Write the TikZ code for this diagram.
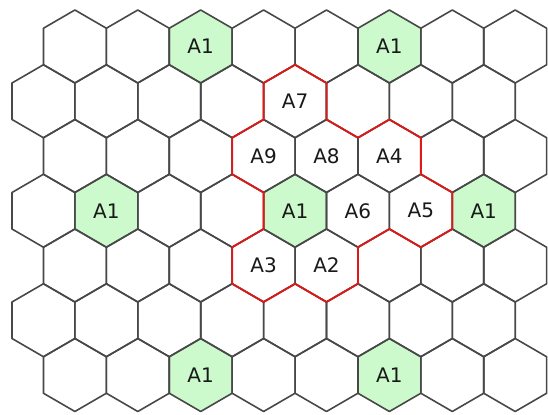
\documentclass[tikz,border=0pt]{standalone}
\usepackage{fontspec}
\setmainfont{DejaVu Sans}
\definecolor{gridgray}{HTML}{484848}
\definecolor{cellgreen}{HTML}{CCFACC}
\definecolor{borderred}{HTML}{E01818}
\begin{document}
\begin{tikzpicture}[x=31.45pt,y=-18.25pt,
  hexline/.style={draw=gridgray, line width=1.6pt, line join=round},
  greenfill/.style={fill=cellgreen},
  redline/.style={draw=borderred, line width=1.8pt, line join=round},
  lbl/.style={font=\fontsize{20}{20}\selectfont, text=black!90, inner sep=0pt}]
\useasboundingbox (-0.3816,-0.548) rectangle (17.043,22.192);
% hex cell path: #1 = lattice x of centre, #2 = lattice level of centre
\newcommand\hexcellpath[2]{(#1,#2-2) -- (#1+1,#2-1) -- (#1+1,#2+1) -- (#1,#2+2) -- (#1-1,#2+1) -- (#1-1,#2-1) -- cycle}
% green cells (row, col)
\foreach \r/\c in {0/2,0/5,3/1,3/4,3/7,6/2,6/5}{
  \pgfmathtruncatemacro\k{2*\c+1+mod(\r+1,2)}
  \pgfmathtruncatemacro\L{2+3*\r}
  \path[greenfill] \hexcellpath{\k}{\L};
}
% grid
\foreach \r in {0,...,6}{
  \foreach \c in {0,...,7}{
    \pgfmathtruncatemacro\k{2*\c+1+mod(\r+1,2)}
    \pgfmathtruncatemacro\L{2+3*\r}
    \draw[hexline] \hexcellpath{\k}{\L};
  }
}
% red cluster border
\draw[redline] (9,3) -- (10,4) -- (10,6) -- (11,7) -- (12,6) -- (13,7) -- (13,9)
  -- (14,10) -- (14,12) -- (13,13) -- (12,12) -- (11,13) -- (11,15) -- (10,16)
  -- (9,15) -- (8,16) -- (7,15) -- (7,13) -- (8,12) -- (8,10) -- (7,9) -- (7,7)
  -- (8,6) -- (8,4) -- cycle;
% labels
\node[lbl] (a1r0c2) at (6,2) {A1};
\node[lbl] (a1r0c5) at (12,2) {A1};
\node[lbl] (a7) at (9,5) {A7};
\node[lbl] (a9) at (8,8) {A9};
\node[lbl] (a8) at (10,8) {A8};
\node[lbl] (a4) at (12,8) {A4};
\node[lbl] (a1r3c1) at (3,11) {A1};
\node[lbl] (a1r3c4) at (9,11) {A1};
\node[lbl] (a6) at (11,11) {A6};
\node[lbl] (a5) at (13,11) {A5};
\node[lbl] (a1r3c7) at (15,11) {A1};
\node[lbl] (a3) at (8,14) {A3};
\node[lbl] (a2) at (10,14) {A2};
\node[lbl] (a1r6c2) at (6,20) {A1};
\node[lbl] (a1r6c5) at (12,20) {A1};
\end{tikzpicture}
\end{document}
